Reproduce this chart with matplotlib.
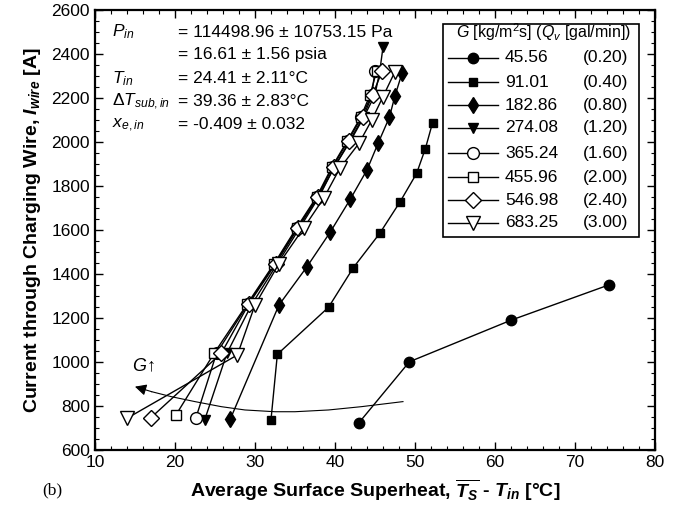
import matplotlib
matplotlib.use("Agg")
import matplotlib.pyplot as plt
from matplotlib.lines import Line2D
from matplotlib.patches import Rectangle
from matplotlib.ticker import MultipleLocator

plt.rcParams["font.family"] = ["Liberation Sans", "DejaVu Sans"]
plt.rcParams["mathtext.fontset"] = "custom"
plt.rcParams["mathtext.rm"] = "Liberation Sans"
plt.rcParams["mathtext.it"] = "Liberation Sans:italic"
plt.rcParams["mathtext.bf"] = "Liberation Sans:bold"
plt.rcParams["mathtext.bfit"] = "Liberation Sans:bold:italic"

# mass velocity G [kg/m2s] and volume flow Qv [gal/min]
g_labels = ["45.56", "91.01", "182.86", "274.08", "365.24", "455.96", "546.98", "683.25"]
q_labels = ["(0.20)", "(0.40)", "(0.80)", "(1.20)", "(1.60)", "(2.00)", "(2.40)", "(3.00)"]

# superheat [C] and wire current [A] per series
x_4556 = [43.0, 49.3, 62.0, 74.2]
y_4556 = [724, 1001, 1190, 1350]
x_9101 = [32.0, 32.8, 39.2, 42.3, 45.6, 48.1, 50.2, 51.3, 52.2]
y_9101 = [736, 1035, 1249, 1429, 1585, 1726, 1857, 1970, 2088]
x_18286 = [26.9, 33.0, 36.5, 39.4, 41.9, 44.0, 45.4, 46.8, 47.5, 48.4]
y_18286 = [739, 1259, 1433, 1590, 1739, 1873, 1995, 2112, 2210, 2315]
x_27408 = [23.7, 26.5, 29.6, 32.8, 35.6, 38.0, 39.9, 41.9, 43.6, 45.0, 45.6, 46.0]
y_27408 = [735, 1040, 1262, 1447, 1610, 1750, 1885, 2003, 2112, 2215, 2322, 2430]
x_36524 = [22.6, 25.2, 29.1, 32.5, 35.3, 37.8, 39.7, 41.6, 43.3, 44.6, 45.0]
y_36524 = [744, 1040, 1262, 1447, 1610, 1750, 1885, 2003, 2112, 2215, 2322]
x_45596 = [20.1, 24.9, 29.0, 32.4, 35.2, 37.7, 39.6, 41.5, 43.2, 44.4, 45.2]
y_45596 = [758, 1040, 1262, 1447, 1610, 1750, 1885, 2003, 2112, 2215, 2322]
x_54698 = [17.0, 25.8, 29.2, 32.6, 35.4, 37.9, 39.9, 41.8, 43.5, 44.7, 45.9]
y_54698 = [747, 1040, 1262, 1447, 1610, 1750, 1885, 2003, 2112, 2215, 2322]
x_68325 = [14.0, 27.8, 30.0, 33.0, 36.1, 38.6, 40.6, 43.0, 44.6, 46.0, 47.5]
y_68325 = [744, 1032, 1259, 1447, 1610, 1745, 1880, 1994, 2100, 2206, 2320]

xs = [x_4556, x_9101, x_18286, x_27408, x_36524, x_45596, x_54698, x_68325]
ys = [y_4556, y_9101, y_18286, y_27408, y_36524, y_45596, y_54698, y_68325]

markers = ["o", "s", "d", "v", "o", "s", "D", "v"]
sizes = [7.5, 6, 8.5, 7.5, 8.5, 7.5, 8, 9.5]
faces = ["k", "k", "k", "k", "w", "w", "w", "w"]

# hand-drawn "G increases" guide curve
curve_x = [48.5, 43.3, 39.2, 35.0, 32.5, 28.75, 25.8, 22.5, 19.6, 17.1]
curve_y = [820, 797, 782, 774, 774, 782, 797, 820, 842, 865]
arrow_tip = (15.0, 888)

fig = plt.figure(figsize=(6.83, 5.14), dpi=100)
ax = fig.add_axes([0.139, 0.1245, 0.82, 0.856])

for i in range(len(xs)):
    ax.plot(xs[i], ys[i], color="k", lw=1.0, marker=markers[i], ms=sizes[i],
            mfc=faces[i], mec="k", mew=1.0, zorder=3 + i * 0.1)

ax.plot(curve_x, curve_y, color="k", lw=0.8, zorder=2)
ax.annotate("", xy=arrow_tip, xytext=(curve_x[-1], curve_y[-1]),
            arrowprops=dict(arrowstyle="-|>", color="k", lw=0.8, mutation_scale=17,
                            shrinkA=0, shrinkB=0))
ax.text(16.0, 980, r"$G$↑", fontsize=13, ha="center", va="center")

ax.set_xlim(10, 80)
ax.set_ylim(600, 2600)
ax.xaxis.set_major_locator(MultipleLocator(10))
ax.xaxis.set_minor_locator(MultipleLocator(2))
ax.yaxis.set_major_locator(MultipleLocator(200))
ax.yaxis.set_minor_locator(MultipleLocator(50))
ax.tick_params(which="both", direction="in", top=True, right=True, labelsize=12.5)
ax.tick_params(which="major", length=6, width=1)
ax.tick_params(which="minor", length=3, width=0.8)
for s in ax.spines.values():
    s.set_linewidth(1.6)

ax.set_xlabel(r"Average Surface Superheat, $\overline{\mathbfit{T}_{\mathbfit{S}}}$ - $\mathbfit{T}_{\mathbfit{in}}$ [°C]",
              fontsize=14, fontweight="bold", labelpad=5)
ax.set_ylabel(r"Current through Charging Wire, $\mathbfit{I}_{\mathbfit{wire}}$ [A]",
              fontsize=14, fontweight="bold", labelpad=6)

# inlet conditions
cond_names = [r"$P_{in}$", "", r"$T_{in}$", r"$\Delta T_{sub,in}$", r"$x_{e,in}$"]
cond_values = ["= 114498.96 ± 10753.15 Pa", "= 16.61 ± 1.56 psia", "= 24.41 ± 2.11°C",
               "= 39.36 ± 2.83°C", "= -0.409 ± 0.032"]
row_y = [0.95, 0.898, 0.845, 0.791, 0.739]
for name, val, yy in zip(cond_names, cond_values, row_y):
    ax.text(0.03, yy, name, transform=ax.transAxes, fontsize=12.5, va="center")
    ax.text(0.148, yy, val, transform=ax.transAxes, fontsize=12.5, va="center")

# legend box drawn by hand to get the two aligned text columns
ax.add_patch(Rectangle((0.621, 0.484), 0.35, 0.484, transform=ax.transAxes,
                       facecolor="w", edgecolor="k", lw=1.2, zorder=5))
ax.text(0.80, 0.95, r"$G$ [kg/m$^2$s] ($Q_v$ [gal/min])", transform=ax.transAxes,
        fontsize=11.5, ha="center", va="center", zorder=6)
leg_y = [0.891, 0.836, 0.784, 0.732, 0.675, 0.620, 0.568, 0.516]
for i in range(len(g_labels)):
    yy = leg_y[i]
    ax.add_line(Line2D([0.630, 0.720], [yy, yy], transform=ax.transAxes, color="k",
                       lw=1.0, zorder=6))
    ax.add_line(Line2D([0.675], [yy], transform=ax.transAxes, marker=markers[i],
                       ms=sizes[i], mfc=faces[i], mec="k", mew=1.0, zorder=7))
    ax.text(0.732, yy, g_labels[i], transform=ax.transAxes, fontsize=12.5,
            va="center", zorder=6)
    ax.text(0.871, yy, q_labels[i], transform=ax.transAxes, fontsize=12.5,
            va="center", zorder=6)

fig.text(0.062, 0.045, "(b)", fontsize=12.5, family="Liberation Serif", va="center")

fig.savefig("out.png", dpi=100)
